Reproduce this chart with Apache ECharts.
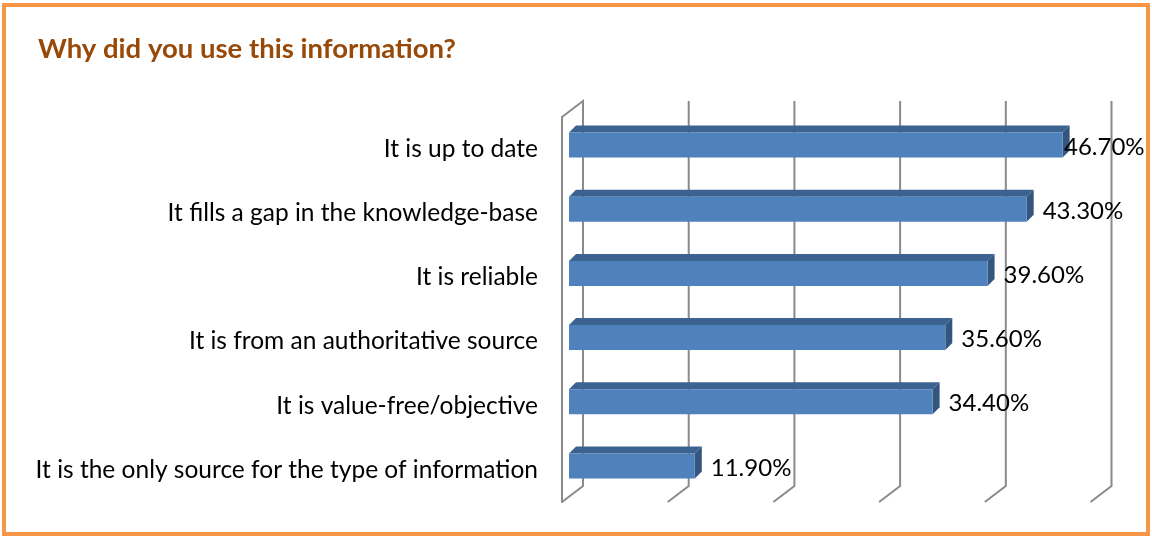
<!DOCTYPE html>
<html>
<head>
<meta charset="utf-8">
<title>Why did you use this information?</title>
<script src="https://cdn.jsdelivr.net/npm/echarts@6/dist/echarts.min.js"></script>
<style>
  html, body { margin: 0; padding: 0; background: #fff; }
  #chart { width: 1152px; height: 537px; }
</style>
</head>
<body>
<div id="chart"></div>
<script>
  // survey answers, top to bottom
  const categories = [
    'It is up to date',
    'It fills a gap in the knowledge-base',
    'It is reliable',
    'It is from an authoritative source',
    'It is value-free/objective',
    'It is the only source for the type of information'
  ];
  const values = [46.7, 43.3, 39.6, 35.6, 34.4, 11.9];
  const xTicks = [0, 10, 20, 30, 40, 50];

  const GRID_COLOR = '#8a8a8a';
  const FONT = 'Lato, "Open Sans", sans-serif';
  // depth of the fake 3d box (floor slant) and of each bar
  const DEPTH_X = 21, DEPTH_Y = 16;
  const BAR_DX = 7, BAR_DY = 7;

  let chart = echarts.init(document.getElementById('chart'));

  let option = {
    animation: false,
    title: {
      text: 'Why did you use this information?',
      left: 33,
      top: 30,
      textStyle: {
        fontFamily: FONT,
        fontWeight: 'bold',
        fontSize: 27.5,
        color: '#984807'
      }
    },
    graphic: [{
      type: 'rect',
      shape: { x: 4, y: 5, width: 1144, height: 529 },
      style: { fill: 'none', stroke: '#f79646', lineWidth: 4 }
    }],
    grid: [
      // back wall, where the gridlines stand
      { left: 583, top: 101, width: 528.5, height: 385 },
      // bars
      { left: 569, top: 113, width: 528.5, height: 385 },
      // front axis with labels
      { left: 562, top: 117, width: 528.5, height: 385 }
    ],
    xAxis: [
      { gridIndex: 0, type: 'value', min: 0, max: 50, interval: 10, show: false },
      { gridIndex: 1, type: 'value', min: 0, max: 50, interval: 10, show: false },
      { gridIndex: 2, type: 'value', min: 0, max: 50, interval: 10, show: false }
    ],
    yAxis: [
      { gridIndex: 0, type: 'value', min: 0, max: 1, show: false },
      { gridIndex: 1, type: 'category', inverse: true, data: categories, show: false },
      {
        gridIndex: 2,
        type: 'category',
        inverse: true,
        data: categories,
        axisLine: { lineStyle: { color: GRID_COLOR, width: 2 } },
        axisTick: { length: 7, lineStyle: { color: GRID_COLOR, width: 2 } },
        axisLabel: {
          margin: 24,
          fontFamily: FONT,
          fontSize: 24.5,
          color: '#000'
        }
      }
    ],
    series: [
      {
        // vertical gridlines plus their slanted floor part
        type: 'custom',
        xAxisIndex: 0,
        yAxisIndex: 0,
        silent: true,
        data: xTicks.map(function (t) { return [t]; }),
        renderItem: function (params, api) {
          let top = api.coord([api.value(0), 1]);
          let bot = api.coord([api.value(0), 0]);
          let pts = [top, bot, [bot[0] - DEPTH_X, bot[1] + DEPTH_Y]];
          if (params.dataIndex === 0) {
            // side wall top edge
            pts.unshift([top[0] - DEPTH_X, top[1] + DEPTH_Y]);
          }
          return {
            type: 'polyline',
            shape: { points: pts },
            style: { stroke: GRID_COLOR, lineWidth: 2, fill: 'none' }
          };
        }
      },
      {
        type: 'custom',
        xAxisIndex: 1,
        yAxisIndex: 1,
        data: values.map(function (v, i) { return [v, i]; }),
        renderItem: function (params, api) {
          let end = api.coord([api.value(0), api.value(1)]);
          let start = api.coord([0, api.value(1)]);
          let h = 25;
          let x0 = start[0], x1 = end[0];
          let y0 = end[1] - h / 2, y1 = end[1] + h / 2;
          let labelX = Math.min(x1 + 16, api.getWidth() - 88);
          return {
            type: 'group',
            children: [
              {
                type: 'polygon',
                shape: { points: [[x0, y0], [x0 + BAR_DX, y0 - BAR_DY], [x1 + BAR_DX, y0 - BAR_DY], [x1, y0]] },
                style: { fill: '#3c6291' }
              },
              {
                type: 'polygon',
                shape: { points: [[x1, y0], [x1 + BAR_DX, y0 - BAR_DY], [x1 + BAR_DX, y1 - BAR_DY], [x1, y1]] },
                style: { fill: '#34567e' }
              },
              {
                type: 'rect',
                shape: { x: x0, y: y0, width: x1 - x0, height: h },
                style: { fill: '#4f81bd' }
              },
              {
                type: 'text',
                x: labelX,
                y: end[1] + 2,
                style: {
                  text: api.value(0).toFixed(2) + '%',
                  fontFamily: FONT,
                  fontSize: 24,
                  fill: '#000',
                  verticalAlign: 'middle'
                }
              }
            ]
          };
        }
      }
    ]
  };

  chart.setOption(option);
</script>
</body>
</html>
